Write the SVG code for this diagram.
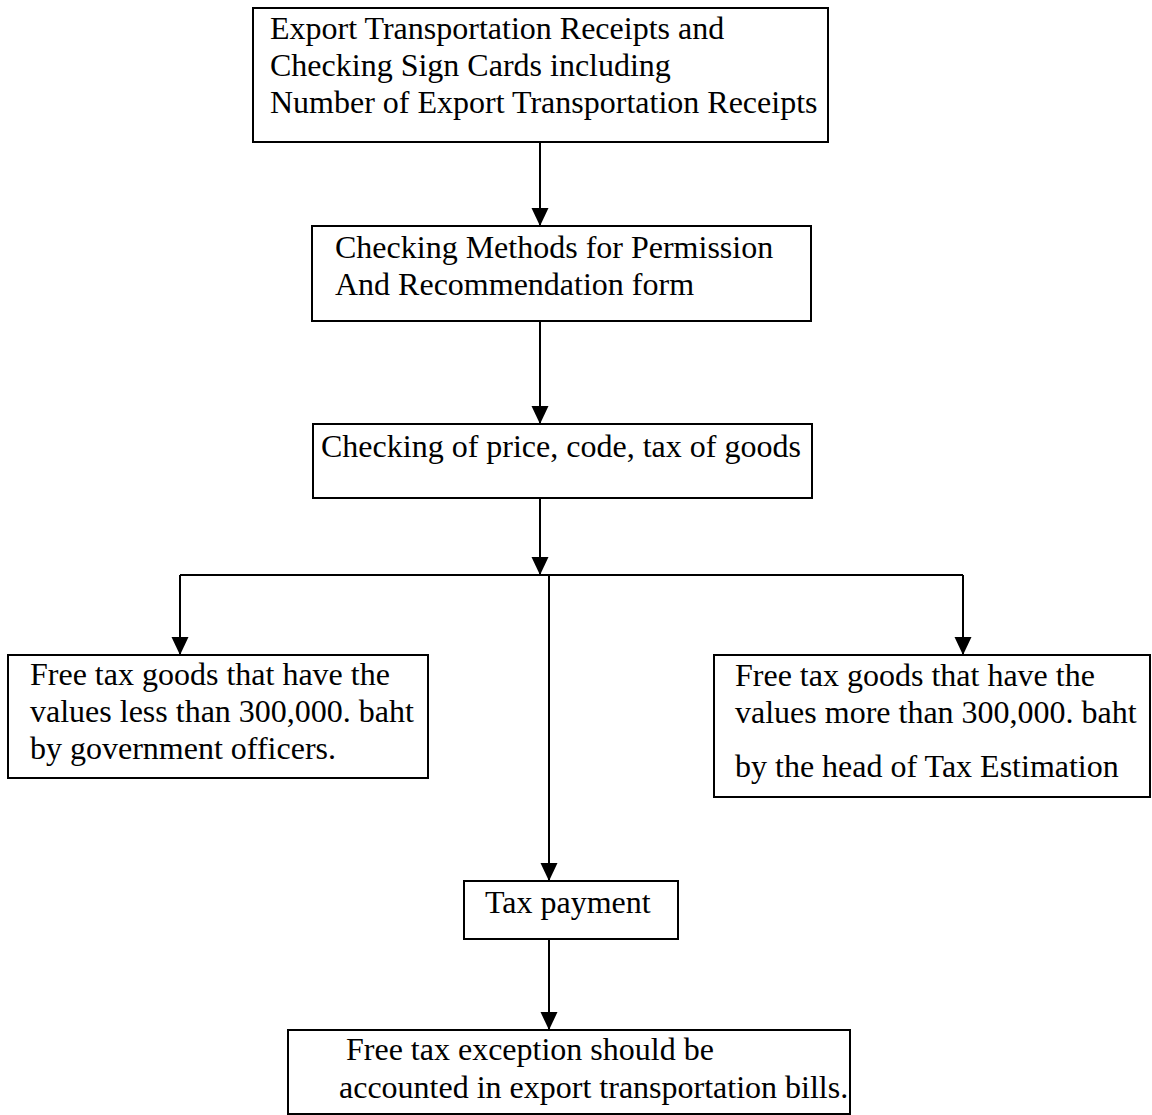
<svg xmlns="http://www.w3.org/2000/svg" width="1152" height="1115" viewBox="0 0 1152 1115">
  <style>
    .box { fill: #ffffff; stroke: #000000; stroke-width: 2; }
    .lbl { font-family: "Liberation Serif", "Times New Roman", serif; font-size: 32px; fill: #000000; }
    .conn { fill: none; stroke: #000000; stroke-width: 2; }
  </style>
  <defs>
    <marker id="arrow" markerUnits="userSpaceOnUse" markerWidth="20" markerHeight="18" refX="18" refY="8.5" orient="auto">
      <path d="M0,0 L18,8.5 L0,17 z" fill="#000000"/>
    </marker>
  </defs>
  <rect width="1152" height="1115" fill="#ffffff"/>

  <g id="connectors">
    <path class="conn" d="M540,142 V226" marker-end="url(#arrow)"/>
    <path class="conn" d="M540,321 V424" marker-end="url(#arrow)"/>
    <path class="conn" d="M540,498 V575" marker-end="url(#arrow)"/>
    <path class="conn" d="M180,575 H963"/>
    <path class="conn" d="M180,575 V655" marker-end="url(#arrow)"/>
    <path class="conn" d="M963,575 V655" marker-end="url(#arrow)"/>
    <path class="conn" d="M549,575 V881" marker-end="url(#arrow)"/>
    <path class="conn" d="M549,939 V1030" marker-end="url(#arrow)"/>
  </g>

  <g id="node-receipts">
    <rect class="box" x="253" y="8" width="575" height="134"/>
    <text class="lbl" x="270" y="39">Export Transportation Receipts and</text>
    <text class="lbl" x="270" y="76">Checking Sign Cards including</text>
    <text class="lbl" x="270" y="113">Number of Export Transportation Receipts</text>
  </g>

  <g id="node-methods">
    <rect class="box" x="312" y="226" width="499" height="95"/>
    <text class="lbl" x="335" y="258">Checking Methods for Permission</text>
    <text class="lbl" x="335" y="295">And Recommendation form</text>
  </g>

  <g id="node-price">
    <rect class="box" x="313" y="424" width="499" height="74"/>
    <text class="lbl" x="321" y="457">Checking of price, code, tax of goods</text>
  </g>

  <g id="node-less">
    <rect class="box" x="8" y="655" width="420" height="123"/>
    <text class="lbl" x="30" y="685">Free tax goods that have the</text>
    <text class="lbl" x="30" y="722">values less than 300,000. baht</text>
    <text class="lbl" x="30" y="759">by government officers.</text>
  </g>

  <g id="node-more">
    <rect class="box" x="714" y="655" width="436" height="142"/>
    <text class="lbl" x="735" y="686">Free tax goods that have the</text>
    <text class="lbl" x="735" y="723">values more than 300,000. baht</text>
    <text class="lbl" x="735" y="777">by the head of Tax Estimation</text>
  </g>

  <g id="node-payment">
    <rect class="box" x="464" y="881" width="214" height="58"/>
    <text class="lbl" x="485" y="913">Tax payment</text>
  </g>

  <g id="node-exception">
    <rect class="box" x="288" y="1030" width="562" height="84"/>
    <text class="lbl" x="346" y="1060">Free tax exception should be</text>
    <text class="lbl" x="339" y="1098">accounted in export transportation bills.</text>
  </g>
</svg>
